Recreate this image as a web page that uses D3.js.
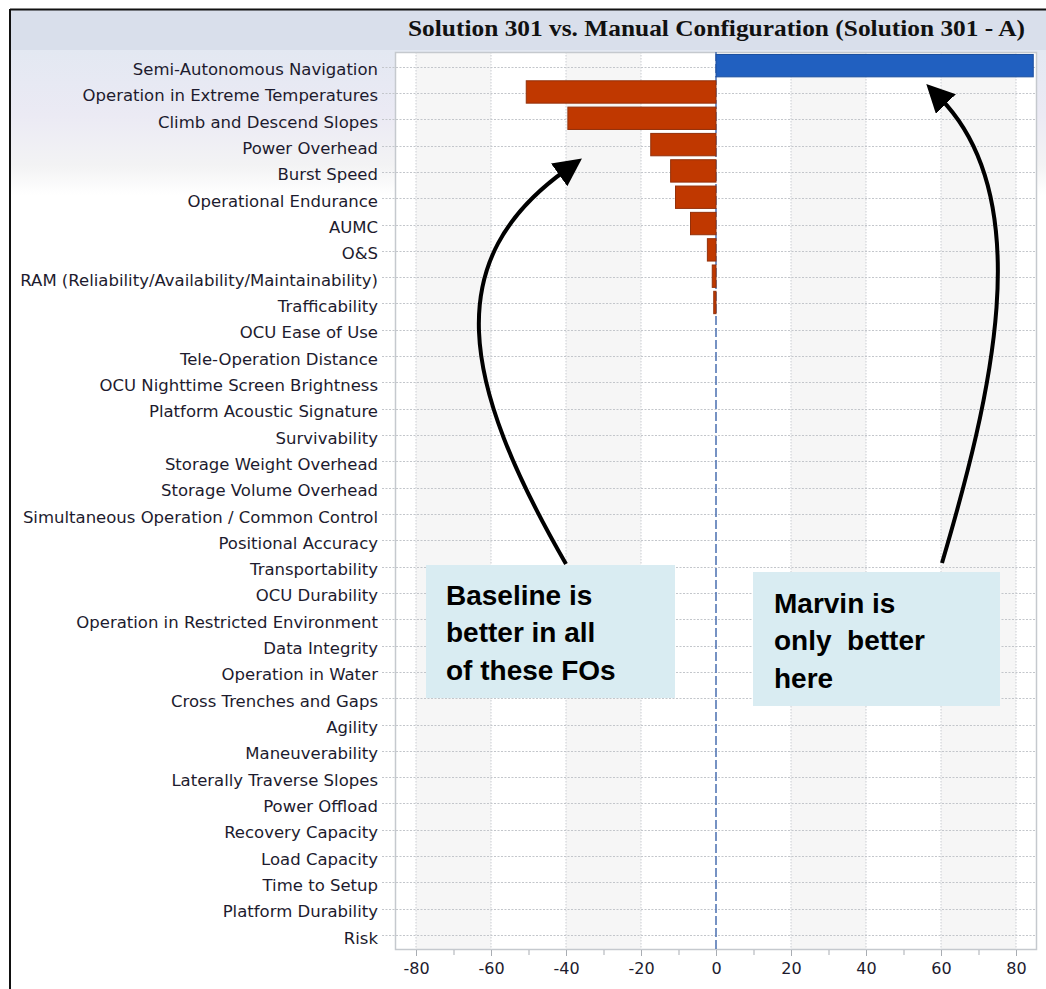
<!DOCTYPE html>
<html>
<head>
<meta charset="utf-8">
<script src="https://cdn.jsdelivr.net/npm/d3@7"></script>
<style>
  html, body { margin: 0; padding: 0; background: #ffffff; }
  svg { display: block; }
</style>
</head>
<body>
<svg id="chart" width="1046" height="989"></svg>
<script>
// Functional objectives, top to bottom
const categories = [
  "Semi-Autonomous Navigation",
  "Operation in Extreme Temperatures",
  "Climb and Descend Slopes",
  "Power Overhead",
  "Burst Speed",
  "Operational Endurance",
  "AUMC",
  "O&S",
  "RAM (Reliability/Availability/Maintainability)",
  "Trafficability",
  "OCU Ease of Use",
  "Tele-Operation Distance",
  "OCU Nighttime Screen Brightness",
  "Platform Acoustic Signature",
  "Survivability",
  "Storage Weight Overhead",
  "Storage Volume Overhead",
  "Simultaneous Operation / Common Control",
  "Positional Accuracy",
  "Transportability",
  "OCU Durability",
  "Operation in Restricted Environment",
  "Data Integrity",
  "Operation in Water",
  "Cross Trenches and Gaps",
  "Agility",
  "Maneuverability",
  "Laterally Traverse Slopes",
  "Power Offload",
  "Recovery Capacity",
  "Load Capacity",
  "Time to Setup",
  "Platform Durability",
  "Risk"
];

// Difference (Solution 301 - A) per objective
const differences = [
  84.6, -50.6, -39.5, -17.4, -12.1, -10.8, -6.8, -2.3, -1.0, -0.6,
  0, 0, 0, 0, 0, 0, 0, 0, 0, 0,
  0, 0, 0, 0, 0, 0, 0, 0, 0, 0,
  0, 0, 0, 0
];

const majorTicks = [-80, -60, -40, -20, 0, 20, 40, 60, 80];
const minorTicks = [-70, -50, -30, -10, 10, 30, 50, 70];
const shadedBands = [[-80, -60], [-40, -20], [20, 40], [60, 80]];

const titleText = "Solution 301 vs. Manual Configuration (Solution 301 - A)";

const notes = [
  { lines: ["Baseline is", "better in all", "of these FOs"], box: [426, 565, 675, 698], tx: 446, ty: 595 },
  { lines: ["Marvin is", "only  better", "here"], box: [753, 572, 1000, 706], tx: 774, ty: 603 }
];

const svg = d3.select("#chart");
const W = 1046, H = 989;

const plot = { left: 395, right: 1037, top: 52, bottom: 950 };

const x = d3.scaleLinear().domain([-85.6, 85.6]).range([plot.left, plot.right]);
const y = d3.scaleBand().domain(categories).range([53.5, 948.2]).paddingInner(0.15).paddingOuter(0.075);
const rowCenter = c => y(c) + y.bandwidth() / 2;

const labelFont = "'DejaVu Sans', Verdana, sans-serif";

// Backgrounds
const defs = svg.append("defs");
const grad = defs.append("linearGradient").attr("id", "topFade")
  .attr("x1", 0).attr("y1", 0).attr("x2", 0).attr("y2", 1);
grad.append("stop").attr("offset", "0%").attr("stop-color", "#e3e8f2");
grad.append("stop").attr("offset", "45%").attr("stop-color", "#ebeaf4");
grad.append("stop").attr("offset", "80%").attr("stop-color", "#f3f3f4");
grad.append("stop").attr("offset", "100%").attr("stop-color", "#ffffff");

svg.append("rect").attr("x", 11).attr("y", 50).attr("width", W - 11).attr("height", 145)
  .attr("fill", "url(#topFade)");
svg.append("rect").attr("x", 11).attr("y", 10).attr("width", W - 11).attr("height", 40)
  .attr("fill", "#d9dfeb");

// Outer frame (top and left)
svg.append("line").attr("x1", 10).attr("x2", W).attr("y1", 9.5).attr("y2", 9.5)
  .attr("stroke", "#111").attr("stroke-width", 2);
svg.append("line").attr("x1", 10).attr("x2", 10).attr("y1", 9).attr("y2", H)
  .attr("stroke", "#111").attr("stroke-width", 2);

// Title, fitted to the header span
svg.append("text")
  .attr("x", 408).attr("y", 36)
  .attr("font-family", "'Liberation Serif', 'Times New Roman', serif")
  .attr("font-weight", "bold")
  .attr("font-size", 23)
  .attr("fill", "#111")
  .attr("textLength", 617).attr("lengthAdjust", "spacingAndGlyphs")
  .text(titleText);

// Plot area
svg.append("rect").attr("x", plot.left).attr("y", plot.top)
  .attr("width", plot.right - plot.left).attr("height", plot.bottom - plot.top)
  .attr("fill", "#ffffff");

svg.append("g").selectAll("rect").data(shadedBands).join("rect")
  .attr("x", d => x(d[0])).attr("width", d => x(d[1]) - x(d[0]))
  .attr("y", plot.top).attr("height", plot.bottom - plot.top)
  .attr("fill", "#f6f6f6");

// Vertical grid
svg.append("g").selectAll("line").data(majorTicks.filter(d => d !== 0)).join("line")
  .attr("x1", d => x(d)).attr("x2", d => x(d))
  .attr("y1", plot.top).attr("y2", plot.bottom)
  .attr("stroke", "#c9ccd1").attr("stroke-width", 1).attr("stroke-dasharray", "1.5,1.5");

// Horizontal grid at each row, reaching into the label gutter
svg.append("g").selectAll("line").data(categories).join("line")
  .attr("x1", 382).attr("x2", plot.right)
  .attr("y1", d => Math.round(rowCenter(d)) + 0.5).attr("y2", d => Math.round(rowCenter(d)) + 0.5)
  .attr("stroke", "#c3c6cb").attr("stroke-width", 1).attr("stroke-dasharray", "2,1.5");

// Plot border
svg.append("rect").attr("x", plot.left + 0.5).attr("y", plot.top + 0.5)
  .attr("width", plot.right - plot.left - 1).attr("height", plot.bottom - plot.top - 1)
  .attr("fill", "none").attr("stroke", "#c5c9ce").attr("stroke-width", 1.5);

// Zero line
svg.append("line").attr("x1", x(0)).attr("x2", x(0))
  .attr("y1", plot.top).attr("y2", plot.bottom)
  .attr("stroke", "#4a6fb0").attr("stroke-width", 1.5).attr("stroke-dasharray", "9,3");

// Bars
const bars = categories.map((c, i) => ({ c, v: differences[i] })).filter(d => d.v !== 0);
svg.append("g").selectAll("rect").data(bars).join("rect")
  .attr("x", d => x(Math.min(0, d.v)))
  .attr("width", d => Math.abs(x(d.v) - x(0)))
  .attr("y", d => y(d.c) - 1)
  .attr("height", y.bandwidth())
  .attr("fill", d => d.v > 0 ? "#2160c0" : "#c03800")
  .attr("stroke", d => d.v > 0 ? "#1c4f9e" : "#93300a")
  .attr("stroke-width", 1);

// Category labels
svg.append("g").selectAll("text").data(categories).join("text")
  .attr("x", 378)
  .attr("y", d => rowCenter(d) + 3)
  .attr("text-anchor", "end")
  .attr("dominant-baseline", "central")
  .attr("font-family", labelFont)
  .attr("font-size", 16.5)
  .attr("fill", "#1d1b2e")
  .text(d => d);

// X axis
const axis = d3.axisBottom(x).tickValues(majorTicks).tickSize(6).tickPadding(7)
  .tickFormat(d => String(d));
const gx = svg.append("g").attr("transform", `translate(0,${plot.bottom})`).call(axis);
gx.select(".domain").remove();
gx.selectAll(".tick line").attr("stroke", "#a9adb3");
gx.selectAll(".tick text")
  .attr("font-family", labelFont)
  .attr("font-size", 16).attr("fill", "#1d1b2e");

svg.append("g").selectAll("line").data(minorTicks).join("line")
  .attr("x1", d => x(d) + 0.5).attr("x2", d => x(d) + 0.5)
  .attr("y1", plot.bottom).attr("y2", plot.bottom + 5)
  .attr("stroke", "#a9adb3");

// Arrows
defs.append("marker").attr("id", "head")
  .attr("viewBox", "0 0 10 10").attr("refX", 3).attr("refY", 5)
  .attr("markerWidth", 7).attr("markerHeight", 7).attr("markerUnits", "strokeWidth")
  .attr("orient", "auto")
  .append("path").attr("d", "M0,0 L10,5 L0,10 Z").attr("fill", "#000");

const arrowPaths = [
  "M566,564 C460,380 440,260 566,170",
  "M942,563 C990,400 1040,200 940,98"
];
svg.append("g").selectAll("path").data(arrowPaths).join("path")
  .attr("d", d => d)
  .attr("fill", "none").attr("stroke", "#000").attr("stroke-width", 4)
  .attr("marker-end", "url(#head)");

// Annotation boxes
const ng = svg.append("g").selectAll("g").data(notes).join("g");
ng.append("rect")
  .attr("x", d => d.box[0]).attr("y", d => d.box[1])
  .attr("width", d => d.box[2] - d.box[0]).attr("height", d => d.box[3] - d.box[1])
  .attr("fill", "#d9ecf2");
ng.each(function (d) {
  d3.select(this).selectAll("text").data(d.lines).join("text")
    .attr("x", d.tx).attr("y", (l, i) => d.ty + i * 37.5)
    .attr("dominant-baseline", "central")
    .attr("font-family", "'Liberation Sans', Arial, sans-serif")
    .attr("font-weight", "bold").attr("font-size", 28)
    .attr("fill", "#000")
    .style("white-space", "pre")
    .text(l => l);
});
</script>
</body>
</html>
